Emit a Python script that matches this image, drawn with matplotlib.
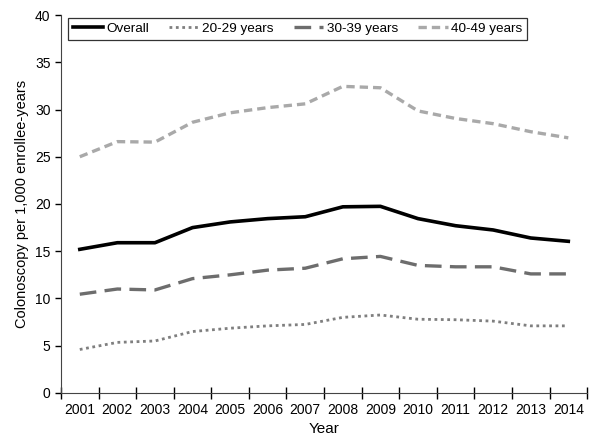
import matplotlib
matplotlib.use("Agg")
import matplotlib.pyplot as plt
import numpy as np

plt.rcParams["font.family"] = ["Liberation Sans", "DejaVu Sans"]

years = [str(y) for y in range(2001, 2015)]
overall = [15.2, 15.9, 15.9, 17.5, 18.1, 18.45, 18.65, 19.7, 19.75, 18.45, 17.7, 17.25, 16.4, 16.05]
age_20_29 = [4.6, 5.35, 5.5, 6.5, 6.85, 7.1, 7.25, 8.0, 8.25, 7.8, 7.75, 7.6, 7.1, 7.1]
age_30_39 = [10.45, 11.0, 10.9, 12.1, 12.5, 13.0, 13.2, 14.2, 14.45, 13.5, 13.35, 13.35, 12.6, 12.6]
age_40_49 = [25.0, 26.6, 26.55, 28.65, 29.65, 30.2, 30.6, 32.45, 32.3, 29.85, 29.05, 28.5, 27.65, 27.0]

fig = plt.figure(figsize=(6.04, 4.42), dpi=100)
ax = fig.add_axes([0.101, 0.111, 0.871, 0.855])

x = np.arange(len(years))
ax.plot(x, overall, color="black", lw=2.6, label="Overall")
ax.plot(x, age_20_29, color="#7f7f7f", lw=2.0, linestyle=(0, (1, 1.3)), label="20-29 years")
ax.plot(x, age_30_39, color="#6d6d6d", lw=2.4, linestyle=(0, (5, 2.5)), label="30-39 years")
ax.plot(x, age_40_49, color="#a9a9a9", lw=2.4, linestyle=(0, (2.5, 1.5)), label="40-49 years")

ax.set_xlim(-0.5, len(years) - 0.5)
ax.set_ylim(0, 40)
ax.set_yticks(range(0, 41, 5))
ax.set_xticks(np.arange(-0.5, len(years), 1.0))
ax.set_xticklabels([])
ax.set_xticks(x, minor=True)
ax.set_xticklabels(years, minor=True)
ax.tick_params(axis="x", which="major", direction="inout", length=8, width=1)
ax.tick_params(axis="x", which="minor", length=0, pad=7, labelsize=10)
ax.tick_params(axis="y", direction="out", length=4, width=1, labelsize=10)

for s in ("top", "right"):
    ax.spines[s].set_visible(False)
ax.spines["left"].set_color("#444444")
ax.spines["bottom"].set_color("#444444")

ax.set_xlabel("Year", fontsize=11, labelpad=4)
ax.set_ylabel("Colonoscopy per 1,000 enrollee-years", fontsize=10.5)

leg = ax.legend(loc="upper center", bbox_to_anchor=(0.45, 0.993), ncol=4, fontsize=9.7,
                frameon=True, fancybox=False, edgecolor="black", handlelength=2.2,
                columnspacing=1.5, handletextpad=0.25, borderpad=0.35, borderaxespad=0)
leg.get_frame().set_linewidth(0.9)

fig.savefig("out.png", dpi=100)
